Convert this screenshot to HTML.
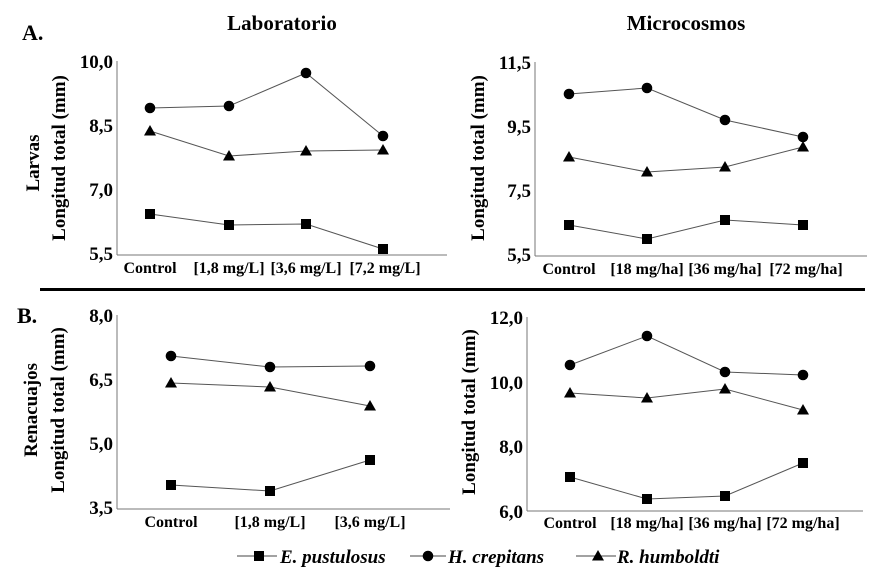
<!DOCTYPE html>
<html><head><meta charset="utf-8"><style>
body{margin:0;background:#fff}
svg text{font-family:"Liberation Serif",serif;font-weight:bold;fill:#000}
</style></head><body>
<svg width="883" height="571" viewBox="0 0 883 571" xmlns="http://www.w3.org/2000/svg">
<defs>
<g id="sq"><rect x="-5" y="-5" width="10" height="10" fill="#000"/></g>
<g id="ci"><circle r="5.3" fill="#000"/></g>
<g id="tr"><polygon points="0,-6 6,4.5 -6,4.5" fill="#000"/></g>
</defs>
<text x="282" y="30" font-size="21" text-anchor="middle">Laboratorio</text>
<text x="686" y="30" font-size="21" text-anchor="middle">Microcosmos</text>
<text x="22" y="40" font-size="22">A.</text>
<text x="17" y="323" font-size="22">B.</text>
<line x1="40" y1="289.5" x2="865" y2="289.5" stroke="#000" stroke-width="3"/>

<g stroke="#777" stroke-width="1" fill="none">
<line x1="117" y1="61" x2="117" y2="255"/><line x1="117" y1="255" x2="447" y2="255"/>
<line x1="535" y1="62" x2="535" y2="256"/><line x1="535" y1="256" x2="867" y2="256"/>
<line x1="117" y1="315" x2="117" y2="509"/><line x1="117" y1="509" x2="450" y2="509"/>
<line x1="527" y1="317" x2="527" y2="511"/><line x1="527" y1="511" x2="863" y2="511"/>
</g>
<g font-size="19" text-anchor="end">
<text x="113" y="68">10,0</text><text x="113" y="132">8,5</text><text x="113" y="196">7,0</text><text x="113" y="260">5,5</text>
<text x="531" y="69">11,5</text><text x="531" y="133">9,5</text><text x="531" y="197">7,5</text><text x="531" y="261">5,5</text>
<text x="113" y="322">8,0</text><text x="113" y="386">6,5</text><text x="113" y="450">5,0</text><text x="113" y="514">3,5</text>
<text x="523" y="324">12,0</text><text x="523" y="389">10,0</text><text x="523" y="453">8,0</text><text x="523" y="518">6,0</text>
</g>
<g font-size="16" text-anchor="middle">
<text x="150" y="273">Control</text><text x="229" y="273">[1,8 mg/L]</text><text x="306" y="273">[3,6 mg/L]</text><text x="385" y="273">[7,2 mg/L]</text>
<text x="569" y="274">Control</text><text x="647" y="274">[18 mg/ha]</text><text x="725" y="274">[36 mg/ha]</text><text x="806" y="274">[72 mg/ha]</text>
<text x="171" y="527">Control</text><text x="270" y="527">[1,8 mg/L]</text><text x="370" y="527">[3,6 mg/L]</text>
<text x="570" y="528">Control</text><text x="647" y="528">[18 mg/ha]</text><text x="725" y="528">[36 mg/ha]</text><text x="803" y="528">[72 mg/ha]</text>
</g>
<g font-size="19" text-anchor="middle">
<text transform="translate(39,163) rotate(-90)">Larvas</text>
<text transform="translate(65,158) rotate(-90)">Longitud total (mm)</text>
<text transform="translate(484,158) rotate(-90)">Longitud total (mm)</text>
<text transform="translate(37,410) rotate(-90)">Renacuajos</text>
<text transform="translate(64,410) rotate(-90)">Longitud total (mm)</text>
<text transform="translate(475,412) rotate(-90)">Longitud total (mm)</text>
</g>
<g stroke="#555" stroke-width="1" fill="none">
<polyline points="150,108 229,106 306,73 383,136"/>
<polyline points="150,131 229,156 306,151 383,150"/>
<polyline points="150,214 229,225 306,224 383,249"/>
<polyline points="569,94 647,88 725,120 803,137"/>
<polyline points="569,157 647,172 725,167 803,147"/>
<polyline points="569,225 647,239 725,220 803,225"/>
<polyline points="171,356 270,367 370,366"/>
<polyline points="171,383 270,387 370,406"/>
<polyline points="171,485 270,491 370,460"/>
<polyline points="570,365 647,336 725,372 803,375"/>
<polyline points="570,393 647,398 725,389 803,410"/>
<polyline points="570,477 647,499 725,496 803,463"/>
</g>
<use href="#ci" x="150" y="108"/><use href="#ci" x="229" y="106"/><use href="#ci" x="306" y="73"/><use href="#ci" x="383" y="136"/>
<use href="#tr" x="150" y="131"/><use href="#tr" x="229" y="156"/><use href="#tr" x="306" y="151"/><use href="#tr" x="383" y="150"/>
<use href="#sq" x="150" y="214"/><use href="#sq" x="229" y="225"/><use href="#sq" x="306" y="224"/><use href="#sq" x="383" y="249"/>
<use href="#ci" x="569" y="94"/><use href="#ci" x="647" y="88"/><use href="#ci" x="725" y="120"/><use href="#ci" x="803" y="137"/>
<use href="#tr" x="569" y="157"/><use href="#tr" x="647" y="172"/><use href="#tr" x="725" y="167"/><use href="#tr" x="803" y="147"/>
<use href="#sq" x="569" y="225"/><use href="#sq" x="647" y="239"/><use href="#sq" x="725" y="220"/><use href="#sq" x="803" y="225"/>
<use href="#ci" x="171" y="356"/><use href="#ci" x="270" y="367"/><use href="#ci" x="370" y="366"/>
<use href="#tr" x="171" y="383"/><use href="#tr" x="270" y="387"/><use href="#tr" x="370" y="406"/>
<use href="#sq" x="171" y="485"/><use href="#sq" x="270" y="491"/><use href="#sq" x="370" y="460"/>
<use href="#ci" x="570" y="365"/><use href="#ci" x="647" y="336"/><use href="#ci" x="725" y="372"/><use href="#ci" x="803" y="375"/>
<use href="#tr" x="570" y="393"/><use href="#tr" x="647" y="398"/><use href="#tr" x="725" y="389"/><use href="#tr" x="803" y="410"/>
<use href="#sq" x="570" y="477"/><use href="#sq" x="647" y="499"/><use href="#sq" x="725" y="496"/><use href="#sq" x="803" y="463"/>

<g stroke="#444" stroke-width="1">
<line x1="237" y1="556" x2="277" y2="556"/>
<line x1="410" y1="556" x2="446" y2="556"/>
<line x1="576" y1="556" x2="616" y2="556"/>
</g>
<use href="#sq" x="259" y="556"/><use href="#ci" x="428" y="556"/><use href="#tr" x="598" y="556"/>
<g font-size="19" font-style="italic">
<text x="280" y="563">E. pustulosus</text>
<text x="448" y="563">H. crepitans</text>
<text x="617" y="563">R. humboldti</text>
</g>
</svg>
</body></html>
